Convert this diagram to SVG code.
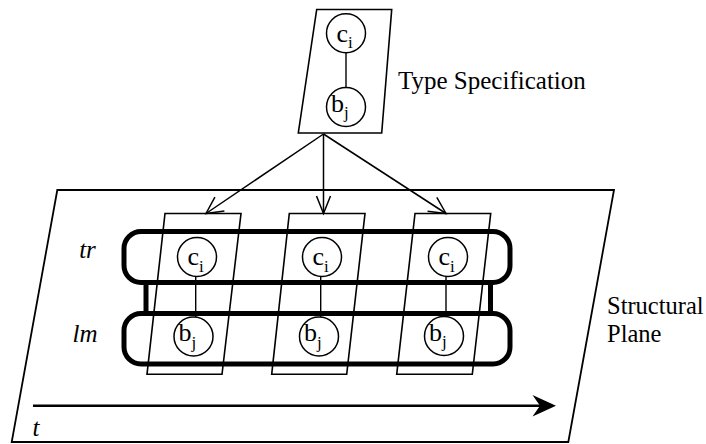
<svg xmlns="http://www.w3.org/2000/svg" width="706" height="444" viewBox="0 0 706 444">
  <style>
    .frame { fill: none; stroke: #000; stroke-width: 1.8; }
    .box { fill: none; stroke: #000; stroke-width: 1.6; }
    .bar { fill: none; stroke: #000; stroke-width: 5; }
    .link { stroke: #000; stroke-width: 1.4; }
    .node { fill: #fff; stroke: #000; stroke-width: 1.5; }
    .arrow { stroke: #000; stroke-width: 1.5; fill: none; }
    text { font-family: 'Liberation Serif', 'Times New Roman', Times, 'DejaVu Serif', serif; }
  </style>

  <g font-family="'Liberation Serif', 'Times New Roman', Times, 'DejaVu Serif', serif" fill="#000">

  <!-- structural plane -->
  <g id="plane">
    <polygon class="frame" points="57.3,190 614,190 568.3,442 11.7,442"/>
    <text x="607" y="314" font-size="24.5">Structural</text>
    <text x="607" y="341.5" font-size="24.5">Plane</text>
  </g>

  <!-- time axis -->
  <g id="time-axis">
    <line x1="33" y1="405.7" x2="545" y2="405.7" stroke="#000" stroke-width="2.6"/>
    <path d="M556,405.7 L532.5,395 L540,405.7 L532.5,416.4 Z" fill="#000"/>
    <text x="32.5" y="436" font-size="25" font-style="italic">t</text>
  </g>

  <!-- relation bands -->
  <g id="band-tr">
    <rect class="bar" x="124" y="231.5" width="386" height="51" rx="17" ry="17"/>
    <text x="87.5" y="258" font-size="25" font-style="italic" text-anchor="middle">tr</text>
  </g>
  <g id="band-lm">
    <rect class="bar" x="124" y="313.5" width="386" height="50.5" rx="17" ry="17"/>
    <text x="85" y="341.5" font-size="25" font-style="italic" text-anchor="middle">lm</text>
  </g>
  <g id="band-links">
    <line class="bar" x1="146" y1="282.5" x2="146" y2="313.5"/>
    <line class="bar" x1="490.5" y1="282.5" x2="490.5" y2="313.5"/>
  </g>

  <!-- type specification -->
  <g id="type-spec">
    <polygon class="box" points="316.7,9.5 391.7,9.5 381.7,133 298.3,133"/>
    <line class="link" x1="346" y1="53" x2="346" y2="87.5"/>
    <circle class="node" cx="346" cy="33.3" r="19.5"/>
    <text x="336.5" y="41.7" font-size="26">c<tspan font-size="17" dy="6.5">i</tspan></text>
    <circle class="node" cx="346" cy="107" r="19.5"/>
    <text x="331" y="111.7" font-size="26">b<tspan font-size="17" dy="6.5">j</tspan></text>
    <text x="398" y="89" font-size="25">Type Specification</text>
  </g>

  <!-- instances on the plane -->
  <g id="instance-1">
    <polygon class="box" points="165,213.5 241,213.5 222,374.3 147,374.3"/>
    <line class="link" x1="195.7" y1="276.5" x2="195.7" y2="317"/>
    <circle class="node" cx="197" cy="257" r="19.5"/>
    <text x="187.5" y="265.4" font-size="26">c<tspan font-size="17" dy="6.5">i</tspan></text>
    <circle class="node" cx="193.5" cy="336.5" r="19.5"/>
    <text x="178.5" y="341.2" font-size="26">b<tspan font-size="17" dy="6.5">j</tspan></text>
  </g>
  <g id="instance-2">
    <polygon class="box" points="289.3,213.5 365,213.5 346.7,374.3 271.7,374.3"/>
    <line class="link" x1="320.7" y1="276.5" x2="320.7" y2="317"/>
    <circle class="node" cx="322" cy="257" r="19.5"/>
    <text x="312.5" y="265.4" font-size="26">c<tspan font-size="17" dy="6.5">i</tspan></text>
    <circle class="node" cx="319" cy="336.5" r="19.5"/>
    <text x="304" y="341.2" font-size="26">b<tspan font-size="17" dy="6.5">j</tspan></text>
  </g>
  <g id="instance-3">
    <polygon class="box" points="415,213.5 490.7,213.5 472.3,374.3 396.7,374.3"/>
    <line class="link" x1="446" y1="276.5" x2="446" y2="317"/>
    <circle class="node" cx="448" cy="257" r="19.5"/>
    <text x="438.5" y="265.4" font-size="26">c<tspan font-size="17" dy="6.5">i</tspan></text>
    <circle class="node" cx="444" cy="336" r="19.5"/>
    <text x="429" y="340.7" font-size="26">b<tspan font-size="17" dy="6.5">j</tspan></text>
  </g>

  </g>

  <!-- instantiation arrows with open heads -->
  <g id="connectors">
    <line class="arrow" x1="323.5" y1="134" x2="206" y2="213.5"/>
    <path class="arrow" d="M214.9,197.1 L206,213.5 L224.4,211.1"/>
    <line class="arrow" x1="323.5" y1="134" x2="323.5" y2="213.5"/>
    <path class="arrow" d="M316.5,196 L323.5,213.5 L330.5,196"/>
    <line class="arrow" x1="323.5" y1="134" x2="446" y2="213.5"/>
    <path class="arrow" d="M427.6,211.3 L446,213.5 L436.8,197.3"/>
  </g>
</svg>
